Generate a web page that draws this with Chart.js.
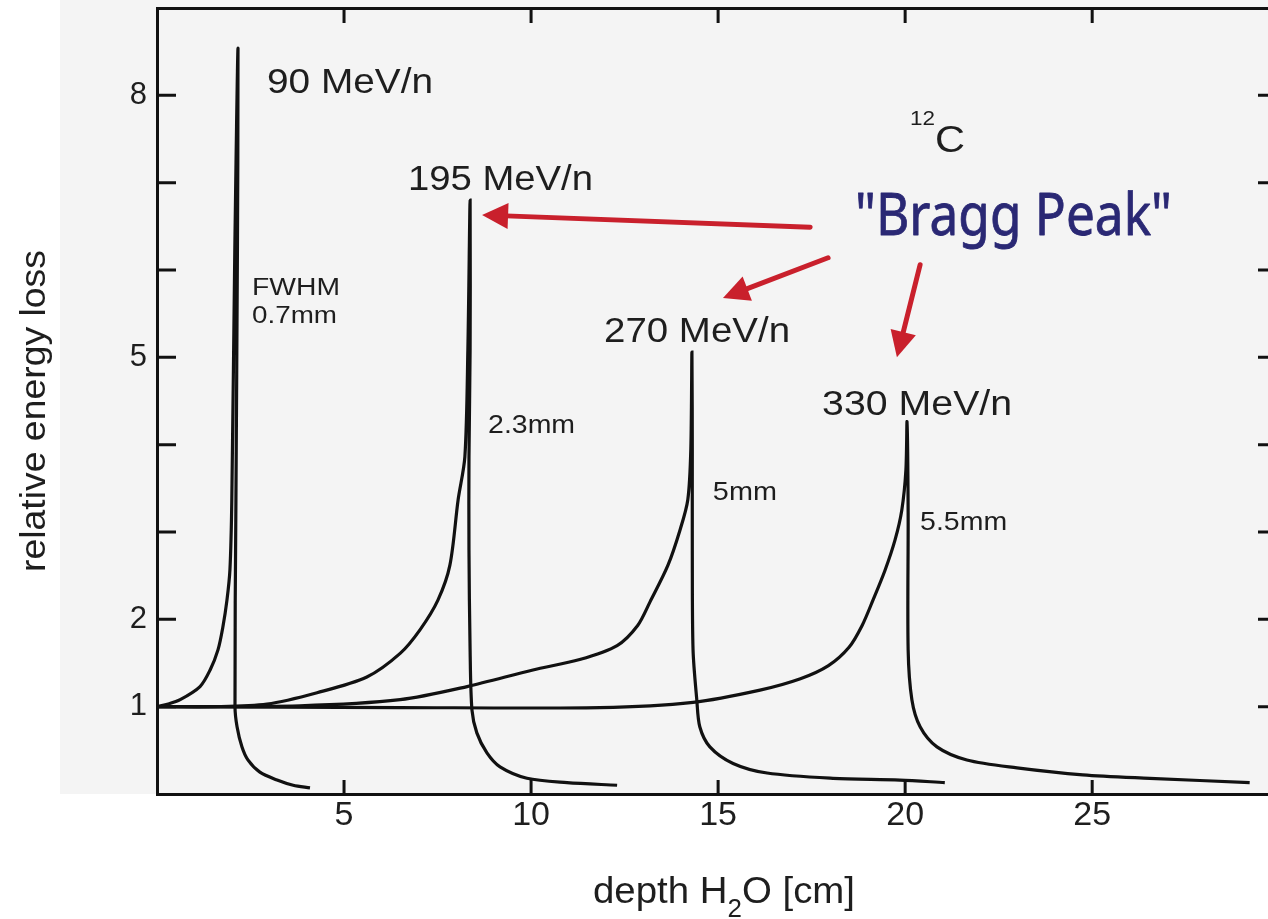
<!DOCTYPE html>
<html><head><meta charset="utf-8">
<script src="https://cdn.jsdelivr.net/npm/chart.js@4.4.0/dist/chart.umd.min.js"></script>
<style>html,body{margin:0;padding:0;background:#fff;overflow:hidden}canvas{display:block}</style>
</head><body>
<canvas id="c" width="1268" height="919"></canvas>
<script>
// ---------- data ----------
const seriesNames = ['90 MeV/n', '195 MeV/n', '270 MeV/n', '330 MeV/n'];

const depth90 = [0, 0.3, 0.62, 1.15, 1.42, 1.63, 1.76, 1.87, 1.95, 2.00, 2.08, 2.165, 2.15, 2.11, 2.085, 2.14, 2.27, 2.43, 2.75, 3.21, 3.64, 4.09];
const loss90  = [1.0, 1.03, 1.08, 1.23, 1.42, 1.65, 1.91, 2.22, 2.57, 3.37, 6.23, 8.54, 6.23, 3.37, 1.0, 0.77, 0.54, 0.39, 0.25, 0.16, 0.10, 0.07];

const depth195 = [0, 1.5, 2.94, 4.28, 5.61, 6.50, 7.03, 7.51, 7.83, 8.05, 8.23, 8.31, 8.37, 8.37, 8.34, 8.34, 8.37, 8.42, 8.55, 8.82, 9.17, 9.89, 10.96, 12.30];
const loss195  = [1.0, 1.0, 1.03, 1.16, 1.34, 1.61, 1.88, 2.22, 2.62, 3.37, 3.86, 5.08, 6.80, 5.08, 3.86, 2.79, 1.65, 0.96, 0.70, 0.47, 0.31, 0.18, 0.13, 0.10];

const depth270 = [0, 3.82, 6.50, 8.29, 10.05, 11.30, 12.30, 12.85, 13.18, 13.66, 13.98, 14.19, 14.27, 14.30, 14.31, 14.31, 14.33, 14.43, 14.51, 14.78, 15.40, 16.31, 18.07, 19.86, 21.06];
const loss270  = [1.0, 1.01, 1.08, 1.23, 1.42, 1.54, 1.70, 1.93, 2.20, 2.62, 3.02, 3.37, 3.94, 5.06, 3.94, 2.79, 1.65, 1.08, 0.77, 0.54, 0.35, 0.24, 0.18, 0.16, 0.13];

const depth330 = [0, 6.50, 11.84, 14.33, 16.12, 17.20, 17.95, 18.50, 18.85, 19.14, 19.46, 19.73, 19.91, 20.02, 20.05, 20.08, 20.08, 20.18, 20.40, 20.85, 21.65, 22.99, 24.75, 26.54, 29.21];
const loss330  = [1.0, 0.99, 0.99, 1.05, 1.19, 1.32, 1.47, 1.68, 1.93, 2.22, 2.56, 2.91, 3.25, 3.71, 4.26, 3.22, 1.65, 1.08, 0.77, 0.54, 0.39, 0.30, 0.22, 0.18, 0.13];

const xTickValues = [5, 10, 15, 20, 25];
const yTickValues = [1, 2, 3, 4, 5, 6, 7, 8];
const yLabelValues = [1, 2, 5, 8];

const xTitle = ['depth H', '2', 'O [cm]'];
const yTitle = 'relative energy loss';

// ---------- annotations (data coordinates) ----------
const labelTexts = [
  {t: '90 MeV/n',  x: 2.94,  y: 8.03, size: 35, w: 166},
  {t: '195 MeV/n', x: 6.71,  y: 6.92, size: 35, w: 185},
  {t: '270 MeV/n', x: 11.95, y: 5.18, size: 35, w: 186},
  {t: '330 MeV/n', x: 17.78, y: 4.34, size: 35, w: 190},
  {t: 'FWHM',      x: 2.54,  y: 5.71, size: 23, w: 88},
  {t: '0.7mm',     x: 2.54,  y: 5.39, size: 23, w: 85},
  {t: '2.3mm',     x: 8.85,  y: 4.13, size: 26, w: 87},
  {t: '5mm',       x: 14.86, y: 3.37, size: 25, w: 64},
  {t: '5.5mm',     x: 20.40, y: 3.02, size: 25, w: 87},
  {t: '12',        x: 20.13, y: 7.66, size: 21, w: 25},
  {t: 'C',         x: 20.80, y: 7.35, size: 37, w: 30}
];
const braggText = {t: '"Bragg Peak"', x: 18.66, y: 6.40, size: 58, w: 317};
const arrows = [
  {x1: 17.46, y1: 6.49, x2: 8.69,  y2: 6.63},
  {x1: 17.94, y1: 6.14, x2: 15.13, y2: 5.68},
  {x1: 20.40, y1: 6.06, x2: 19.78, y2: 5.00}
];

// ---------- helpers ----------
function pts(xs, ys) { return xs.map((x, i) => ({x: x, y: ys[i]})); }
function drawText(ctx, str, x, y, font, color, width, strokeW) {
  ctx.save();
  ctx.font = font; ctx.fillStyle = color; ctx.textAlign = 'left'; ctx.textBaseline = 'alphabetic';
  const m = ctx.measureText(str).width;
  const sx = width ? width / m : 1;
  ctx.translate(x, y); ctx.scale(sx, 1); ctx.fillText(str, 0, 0);
  if (strokeW) { ctx.strokeStyle = color; ctx.lineWidth = strokeW; ctx.lineJoin = 'round'; ctx.strokeText(str, 0, 0); }
  ctx.restore();
}
function drawArrow(ctx, x1, y1, x2, y2) {
  const ang = Math.atan2(y2 - y1, x2 - x1), hl = 26, hw = 13;
  const bx = x2 - hl * Math.cos(ang), by = y2 - hl * Math.sin(ang);
  ctx.save();
  ctx.strokeStyle = '#c9202c'; ctx.fillStyle = '#c9202c'; ctx.lineWidth = 5; ctx.lineCap = 'round';
  ctx.beginPath(); ctx.moveTo(x1, y1); ctx.lineTo(bx + 2 * Math.cos(ang), by + 2 * Math.sin(ang)); ctx.stroke();
  ctx.beginPath(); ctx.moveTo(x2, y2);
  ctx.lineTo(bx + hw * Math.sin(ang), by - hw * Math.cos(ang));
  ctx.lineTo(bx - hw * Math.sin(ang), by + hw * Math.cos(ang));
  ctx.closePath(); ctx.fill();
  ctx.restore();
}

const decor = {
  id: 'decor',
  beforeDraw(chart) {
    const ctx = chart.ctx, a = chart.chartArea;
    ctx.save();
    ctx.fillStyle = '#ffffff'; ctx.fillRect(0, 0, chart.width, chart.height);
    ctx.fillStyle = '#f4f4f4'; ctx.fillRect(60, 0, chart.width - 60, a.bottom);
    ctx.restore();
  },
  afterDraw(chart) {
    const ctx = chart.ctx, a = chart.chartArea, xs = chart.scales.x, ys = chart.scales.y;
    // inward tick marks on all four sides
    ctx.save();
    ctx.strokeStyle = '#111'; ctx.lineWidth = 3; ctx.lineCap = 'butt';
    ctx.beginPath();
    xTickValues.forEach(v => {
      const p = xs.getPixelForValue(v);
      ctx.moveTo(p, a.bottom); ctx.lineTo(p, a.bottom - 14);
      ctx.moveTo(p, a.top); ctx.lineTo(p, a.top + 15);
    });
    yTickValues.forEach(v => {
      const p = ys.getPixelForValue(v);
      ctx.moveTo(a.left, p); ctx.lineTo(a.left + 19, p);
      ctx.moveTo(a.right, p); ctx.lineTo(a.right - 10, p);
    });
    ctx.stroke();
    ctx.restore();

    // curve labels
    const f = s => s + 'px "Liberation Sans", Arial, sans-serif';
    labelTexts.forEach(l => drawText(ctx, l.t, xs.getPixelForValue(l.x), ys.getPixelForValue(l.y), f(l.size), '#1e1e1e', l.w));
    drawText(ctx, braggText.t, xs.getPixelForValue(braggText.x), ys.getPixelForValue(braggText.y),
             braggText.size + 'px "Noto Sans", sans-serif', '#2a2874', braggText.w, 0.8);
    arrows.forEach(r => drawArrow(ctx, xs.getPixelForValue(r.x1), ys.getPixelForValue(r.y1), xs.getPixelForValue(r.x2), ys.getPixelForValue(r.y2)));

    // x axis title with subscript
    ctx.save();
    const big = f(37), small = f(25);
    ctx.font = big; const w1 = ctx.measureText(xTitle[0]).width, w3 = ctx.measureText(xTitle[2]).width;
    ctx.font = small; const w2 = ctx.measureText(xTitle[1]).width;
    const total = w1 + w2 + w3, sx = 262 / total;
    ctx.fillStyle = '#1e1e1e'; ctx.textBaseline = 'alphabetic';
    ctx.translate(593, 903); ctx.scale(sx, 1);
    ctx.font = big; ctx.fillText(xTitle[0], 0, 0);
    ctx.font = small; ctx.fillText(xTitle[1], w1, 14);
    ctx.font = big; ctx.fillText(xTitle[2], w1 + w2, 0);
    ctx.restore();

    // y axis title
    ctx.save();
    ctx.font = f(35); ctx.fillStyle = '#1e1e1e'; ctx.textAlign = 'center'; ctx.textBaseline = 'alphabetic';
    const wy = ctx.measureText(yTitle).width;
    ctx.translate(45, 411); ctx.rotate(-Math.PI / 2); ctx.scale(322 / wy, 1);
    ctx.fillText(yTitle, 0, 0);
    ctx.restore();
  }
};

const lineStyle = {borderColor: '#111', borderWidth: 3.2, pointRadius: 0, showLine: true, tension: 0.3, fill: false};
const noPad = s => { s.paddingTop = 0; s.paddingBottom = 0; s.paddingLeft = 0; s.paddingRight = 0; };

new Chart(document.getElementById('c'), {
  type: 'scatter',
  data: {
    datasets: [
      Object.assign({label: seriesNames[0], data: pts(depth90, loss90)}, lineStyle),
      Object.assign({label: seriesNames[1], data: pts(depth195, loss195)}, lineStyle),
      Object.assign({label: seriesNames[2], data: pts(depth270, loss270)}, lineStyle),
      Object.assign({label: seriesNames[3], data: pts(depth330, loss330)}, lineStyle)
    ]
  },
  options: {
    responsive: false, animation: false, devicePixelRatio: 1,
    layout: {padding: 0},
    plugins: {legend: {display: false}, tooltip: {enabled: false}},
    scales: {
      x: {
        type: 'linear', position: 'bottom', min: 0, max: 29.7,
        grid: {display: false, drawTicks: false},
        border: {display: true, color: '#111', width: 3},
        ticks: {stepSize: 5, includeBounds: false, padding: 1, color: '#1e1e1e',
                font: {family: '"Liberation Sans", Arial, sans-serif', size: 34},
                callback: v => xTickValues.includes(v) ? String(v) : ''},
        afterFit: s => { s.height = 125; noPad(s); }
      },
      x2: {
        type: 'linear', position: 'top', min: 0, max: 29.7,
        grid: {display: false, drawTicks: false},
        border: {display: true, color: '#111', width: 3},
        ticks: {display: false},
        afterFit: s => { s.height = 8; noPad(s); }
      },
      y: {
        type: 'linear', position: 'left', min: 0, max: 9,
        grid: {display: false, drawTicks: false},
        border: {display: true, color: '#111', width: 3},
        ticks: {stepSize: 1, padding: 10, color: '#1e1e1e',
                font: {family: '"Liberation Sans", Arial, sans-serif', size: 31},
                callback: v => yLabelValues.includes(v) ? String(v) : ''},
        afterFit: s => { s.width = 157; noPad(s); }
      }
    }
  },
  plugins: [decor]
});
</script>
</body></html>
